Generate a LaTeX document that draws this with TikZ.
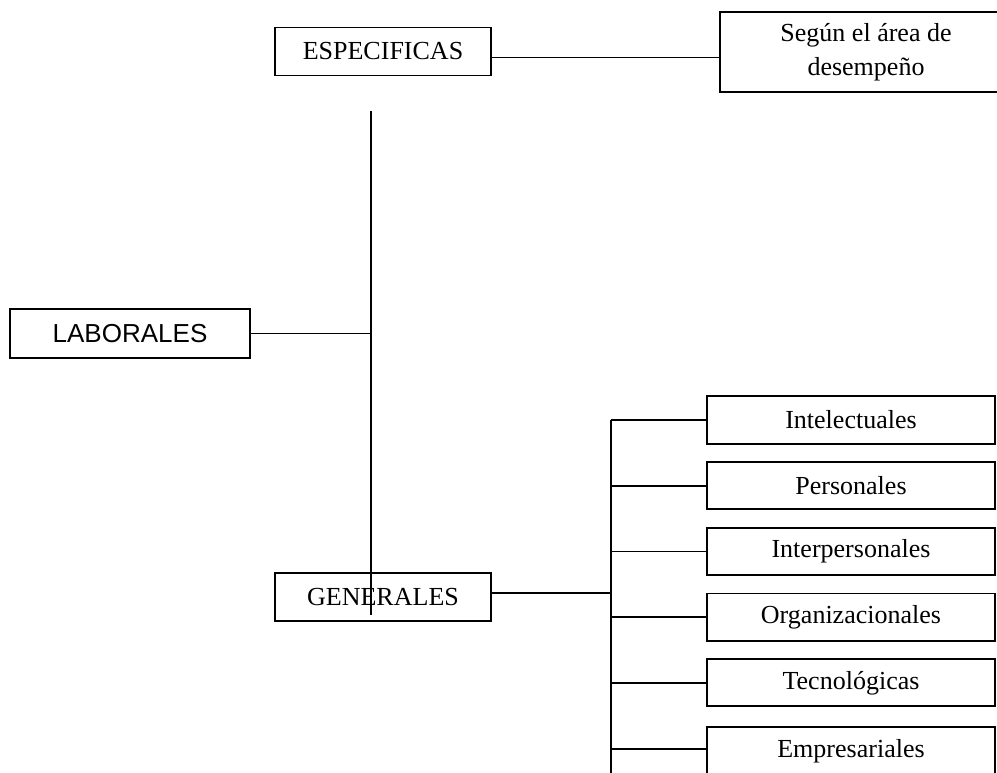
\documentclass[tikz,border=0pt]{standalone}
\usepackage{fontspec}
\setmainfont{Liberation Serif}
\newfontfamily\arialfont{Liberation Sans}

\begin{document}
\begin{tikzpicture}[x=0.025cm, y=-0.025cm, line width=1.2pt,
    box/.style={draw, line width=1.4pt, inner sep=0pt, font=\fontsize{18.5}{22}\selectfont},
    kind/.style={box, minimum width=5.4cm, minimum height=1.2cm},
    sub/.style={box, minimum width=7.2cm, minimum height=1.18cm}]
  \useasboundingbox (0,0) rectangle (997,773);
  \node[box, minimum width=6cm, minimum height=1.22cm, font=\arialfont\fontsize{18.5}{22}\selectfont] (laborales) at (130,333.5) {LABORALES};
  \node[kind] (especificas) at (383,51.5) {ESPECIFICAS};
  \node[kind] (generales) at (383,597) {GENERALES};
  \node[box, minimum width=7.3cm, minimum height=2cm, align=center, font=\fontsize{18.5}{24.5}\selectfont] (area) at (866,52) {Según el área de\\desempeño};
  \node[sub] (intelectuales) at (851,420) {Intelectuales};
  \node[sub] (personales) at (851,485.7) {Personales};
  \node[sub] (interpersonales) at (851,551.4) {Interpersonales};
  \node[sub] (organizacionales) at (851,617.1) {Organizacionales};
  \node[sub] (tecnologicas) at (851,682.8) {Tecnológicas};
  \node[sub] (empresariales) at (851,751) {Empresariales};
  \coordinate (trunktop) at (371,111);
  \coordinate (trunkbot) at (371,615);
  \coordinate (railbot) at (611,790);
  \draw (trunktop) -- (trunkbot);
  \draw (laborales.east) -- (laborales.east -| trunktop);
  \draw ([yshift=-0.15cm]especificas.east) -- ([yshift=-0.15cm]especificas.east -| area.west);
  \draw ([yshift=0.1cm]generales.east) -- ([yshift=0.1cm]generales.east -| railbot);
  \draw (intelectuales.west -| railbot) -- (railbot);
  \foreach \n in {intelectuales,personales,interpersonales,organizacionales,tecnologicas}
    \draw (\n.west) -- (\n.west -| railbot);
  \draw ([yshift=0.05cm]empresariales.west) -- ([yshift=0.05cm]empresariales.west -| railbot);
\end{tikzpicture}
\end{document}
